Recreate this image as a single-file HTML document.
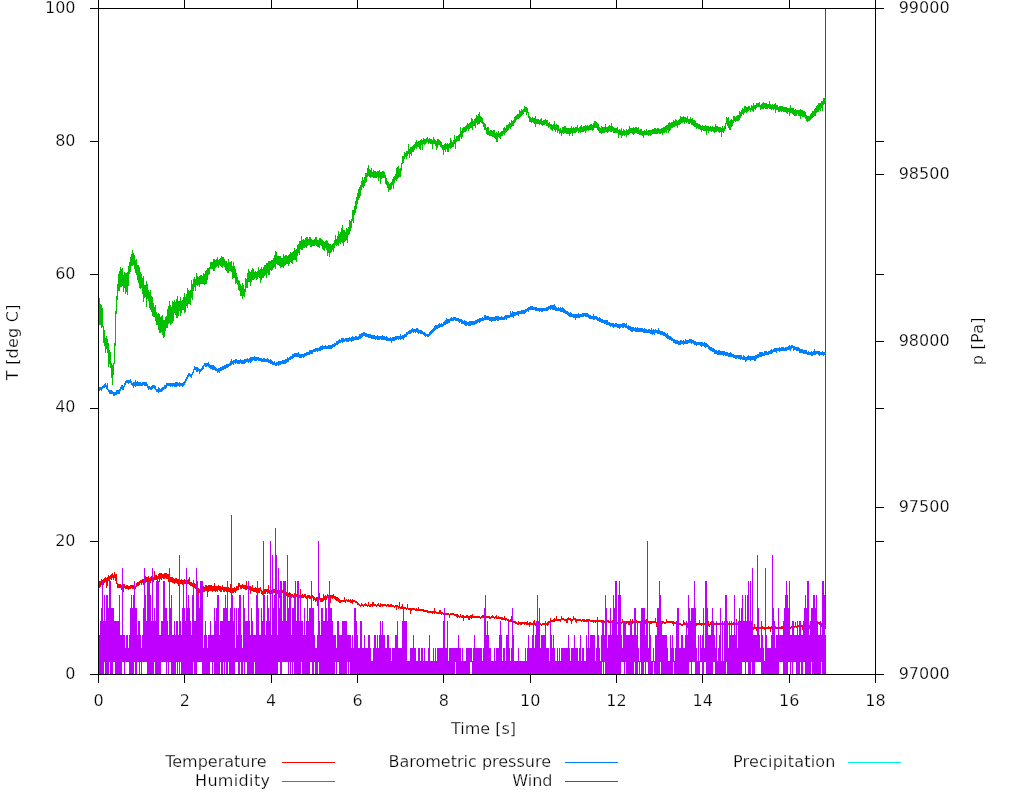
<!DOCTYPE html>
<html><head><meta charset="utf-8"><title>plot</title>
<style>html,body{margin:0;padding:0;background:#fff;overflow:hidden}svg{display:block;will-change:transform}</style>
</head><body>
<svg width="1024" height="800" viewBox="0 0 1024 800">
<rect width="1024" height="800" fill="#fff"/>
<path d="M99.5,581V588M100.5,581V587M101.5,579V585M102.5,580V590M103.5,579V585M104.5,578V583M105.5,577V582M106.5,578V588M107.5,577V586M108.5,575V581M109.5,576V581M110.5,575V579M111.5,574V580M112.5,573V578M113.5,575V580M114.5,572V578M115.5,574V581M116.5,574V584M117.5,583V588M118.5,584V588M119.5,584V588M120.5,584V588M121.5,585V590M122.5,585V589M123.5,584V592M124.5,584V588M125.5,586V589M126.5,585V589M127.5,585V589M128.5,586V590M129.5,586V589M130.5,585V589M131.5,585V588M132.5,585V589M133.5,585V589M134.5,585V588M135.5,586V589M136.5,583V587M137.5,582V586M138.5,582V586M139.5,581V585M140.5,580V583M141.5,580V585M142.5,579V583M143.5,579V585M144.5,579V583M145.5,576V583M146.5,577V582M147.5,577V581M148.5,576V581M149.5,578V583M150.5,577V583M151.5,576V581M152.5,577V582M153.5,577V582M154.5,571V580M155.5,575V580M156.5,575V580M157.5,576V585M158.5,574V579M159.5,573V582M160.5,573V579M161.5,573V580M162.5,574V578M163.5,574V579M164.5,573V579M165.5,573V578M166.5,573V579M167.5,574V579M168.5,574V582M169.5,575V581M170.5,577V582M171.5,577V582M172.5,577V583M173.5,578V583M174.5,579V584M175.5,578V583M176.5,578V583M177.5,579V584M178.5,579V586M179.5,575V585M180.5,580V584M181.5,579V584M182.5,580V585M183.5,580V584M184.5,579V584M185.5,580V584M186.5,581V586M187.5,580V584M188.5,579V584M189.5,577V585M190.5,582V586M191.5,582V586M192.5,583V587M193.5,580V588M194.5,583V588M195.5,584V589M196.5,586V590M197.5,587V591M198.5,588V595M199.5,589V593M200.5,583V595M201.5,587V592M202.5,587V592M203.5,586V592M204.5,587V592M205.5,585V591M206.5,585V591M207.5,586V597M208.5,585V592M209.5,585V591M210.5,585V591M211.5,585V591M212.5,586V592M213.5,586V591M214.5,583V591M215.5,586V592M216.5,586V591M217.5,586V592M218.5,585V590M219.5,586V591M220.5,586V592M221.5,587V592M222.5,585V590M223.5,587V592M224.5,587V592M225.5,587V591M226.5,587V592M227.5,587V592M228.5,587V592M229.5,588V592M230.5,584V593M231.5,586V594M232.5,588V593M233.5,588V593M234.5,587V592M235.5,588V593M236.5,586V591M237.5,586V590M238.5,583V590M239.5,583V587M240.5,585V589M241.5,585V589M242.5,584V588M243.5,585V589M244.5,585V589M245.5,585V590M246.5,581V590M247.5,586V589M248.5,586V590M249.5,586V590M250.5,586V594M251.5,587V591M252.5,585V591M253.5,588V592M254.5,588V592M255.5,587V592M256.5,588V593M257.5,588V592M258.5,588V593M259.5,588V593M260.5,587V591M261.5,590V594M262.5,591V595M263.5,590V594M264.5,589V594M265.5,589V594M266.5,589V592M267.5,589V594M268.5,585V593M269.5,590V594M270.5,590V594M271.5,590V594M272.5,589V593M273.5,589V593M274.5,589V593M275.5,590V594M276.5,590V598M277.5,590V594M278.5,589V593M279.5,590V598M280.5,589V593M281.5,589V593M282.5,590V593M283.5,590V594M284.5,591V595M285.5,591V595M286.5,592V596M287.5,593V597M288.5,593V597M289.5,592V596M290.5,593V601M291.5,594V598M292.5,594V597M293.5,595V598M294.5,593V596M295.5,595V597M296.5,594V597M297.5,595V602M298.5,594V597M299.5,595V598M300.5,589V600M301.5,595V598M302.5,594V598M303.5,595V598M304.5,594V597M305.5,594V598M306.5,596V599M307.5,595V599M308.5,595V598M309.5,595V599M310.5,596V599M311.5,594V598M312.5,595V598M313.5,596V601M314.5,597V600M315.5,598V602M316.5,597V601M317.5,597V606M318.5,597V601M319.5,593V600M320.5,598V602M321.5,598V602M322.5,598V602M323.5,594V601M324.5,596V600M325.5,595V599M326.5,596V600M327.5,594V598M328.5,596V599M329.5,595V599M330.5,595V603M331.5,595V598M332.5,595V599M333.5,594V598M334.5,596V599M335.5,596V600M336.5,597V601M337.5,597V601M338.5,598V602M339.5,599V603M340.5,600V603M341.5,600V602M342.5,600V602M343.5,600V602M344.5,597V602M345.5,600V603M346.5,599V601M347.5,600V602M348.5,599V602M349.5,600V602M350.5,599V603M351.5,600V603M352.5,599V604M353.5,600V602M354.5,600V602M355.5,601V603M356.5,601V603M357.5,602V605M358.5,603V605M359.5,604V606M360.5,605V607M361.5,603V606M362.5,604V606M363.5,605V607M364.5,604V606M365.5,603V606M366.5,604V606M367.5,605V607M368.5,602V606M369.5,605V607M370.5,604V607M371.5,604V606M372.5,602V607M373.5,602V606M374.5,604V606M375.5,604V606M376.5,605V607M377.5,604V606M378.5,603V606M379.5,605V607M380.5,603V607M381.5,604V606M382.5,604V607M383.5,604V606M384.5,604V606M385.5,604V606M386.5,605V607M387.5,604V606M388.5,604V607M389.5,605V607M390.5,604V607M391.5,604V607M392.5,605V607M393.5,605V607M394.5,606V608M395.5,605V607M396.5,605V610M397.5,605V607M398.5,606V609M399.5,602V608M400.5,607V609M401.5,606V609M402.5,604V609M403.5,607V609M404.5,607V609M405.5,607V609M406.5,608V610M407.5,604V609M408.5,608V610M409.5,608V610M410.5,608V614M411.5,608V611M412.5,608V610M413.5,608V610M414.5,608V610M415.5,609V611M416.5,608V611M417.5,609V611M418.5,607V611M419.5,609V611M420.5,609V611M421.5,609V611M422.5,609V611M423.5,609V612M424.5,610V612M425.5,610V612M426.5,610V612M427.5,610V613M428.5,611V613M429.5,611V613M430.5,611V613M431.5,611V613M432.5,611V614M433.5,611V613M434.5,608V614M435.5,611V613M436.5,612V614M437.5,612V614M438.5,612V614M439.5,610V614M440.5,610V614M441.5,612V615M442.5,612V614M443.5,613V615M444.5,613V615M445.5,613V615M446.5,613V615M447.5,613V615M448.5,613V615M449.5,614V618M450.5,613V615M451.5,613V615M452.5,613V615M453.5,613V615M454.5,614V616M455.5,614V616M456.5,614V617M457.5,614V618M458.5,615V617M459.5,616V618M460.5,614V617M461.5,616V618M462.5,615V618M463.5,615V621M464.5,616V618M465.5,616V618M466.5,615V618M467.5,615V618M468.5,616V620M469.5,616V620M470.5,615V618M471.5,615V619M472.5,614V618M473.5,616V618M474.5,616V618M475.5,616V618M476.5,616V618M477.5,616V618M478.5,616V618M479.5,616V618M480.5,617V619M481.5,616V618M482.5,615V618M483.5,615V618M484.5,616V618M485.5,616V619M486.5,616V618M487.5,616V618M488.5,616V618M489.5,616V619M490.5,617V619M491.5,616V618M492.5,615V618M493.5,616V618M494.5,617V619M495.5,616V618M496.5,615V619M497.5,617V619M498.5,616V619M499.5,617V619M500.5,617V619M501.5,617V620M502.5,617V620M503.5,618V620M504.5,616V620M505.5,618V621M506.5,618V620M507.5,619V621M508.5,619V621M509.5,620V622M510.5,619V622M511.5,616V622M512.5,617V622M513.5,621V623M514.5,621V623M515.5,621V624M516.5,622V624M517.5,623V625M518.5,621V625M519.5,622V624M520.5,622V625M521.5,622V625M522.5,622V624M523.5,622V624M524.5,622V625M525.5,622V624M526.5,622V625M527.5,621V625M528.5,623V625M529.5,622V627M530.5,622V625M531.5,623V625M532.5,623V625M533.5,622V624M534.5,620V625M535.5,623V626M536.5,623V625M537.5,623V625M538.5,623V625M539.5,623V625M540.5,623V625M541.5,624V626M542.5,623V625M543.5,623V625M544.5,623V625M545.5,623V628M546.5,623V625M547.5,622V626M548.5,621V625M549.5,621V623M550.5,618V623M551.5,620V622M552.5,620V622M553.5,619V622M554.5,618V622M555.5,619V621M556.5,616V621M557.5,619V621M558.5,619V621M559.5,619V621M560.5,619V622M561.5,616V620M562.5,618V620M563.5,618V620M564.5,619V621M565.5,619V621M566.5,619V623M567.5,618V623M568.5,617V620M569.5,618V620M570.5,618V621M571.5,619V624M572.5,619V621M573.5,616V620M574.5,618V620M575.5,618V622M576.5,619V623M577.5,619V621M578.5,619V621M579.5,619V621M580.5,619V621M581.5,620V622M582.5,619V621M583.5,619V622M584.5,619V622M585.5,620V622M586.5,619V622M587.5,619V622M588.5,619V621M589.5,619V621M590.5,620V622M591.5,620V622M592.5,620V622M593.5,620V623M594.5,620V622M595.5,620V623M596.5,620V622M597.5,617V622M598.5,620V622M599.5,620V622M600.5,620V622M601.5,620V623M602.5,620V622M603.5,620V622M604.5,621V623M605.5,620V623M606.5,620V622M607.5,620V622M608.5,620V623M609.5,621V623M610.5,621V626M611.5,621V623M612.5,620V622M613.5,620V624M614.5,621V623M615.5,621V623M616.5,622V624M617.5,622V624M618.5,622V624M619.5,622V624M620.5,622V624M621.5,622V624M622.5,619V623M623.5,621V623M624.5,621V623M625.5,621V624M626.5,621V624M627.5,621V623M628.5,621V625M629.5,621V625M630.5,619V624M631.5,622V624M632.5,619V624M633.5,621V623M634.5,619V624M635.5,621V627M636.5,620V623M637.5,621V623M638.5,621V623M639.5,621V623M640.5,621V623M641.5,621V626M642.5,621V623M643.5,621V623M644.5,621V623M645.5,620V624M646.5,619V624M647.5,621V623M648.5,621V623M649.5,621V626M650.5,621V624M651.5,621V624M652.5,621V623M653.5,621V623M654.5,621V623M655.5,618V623M656.5,622V627M657.5,621V623M658.5,621V624M659.5,621V623M660.5,621V623M661.5,622V624M662.5,621V624M663.5,621V623M664.5,622V624M665.5,622V624M666.5,619V623M667.5,621V623M668.5,621V623M669.5,621V623M670.5,621V623M671.5,621V623M672.5,621V624M673.5,621V626M674.5,622V624M675.5,622V624M676.5,622V624M677.5,620V625M678.5,623V625M679.5,623V625M680.5,623V625M681.5,624V626M682.5,624V626M683.5,620V625M684.5,622V625M685.5,623V625M686.5,623V625M687.5,623V628M688.5,624V626M689.5,623V628M690.5,624V626M691.5,623V625M692.5,623V625M693.5,623V625M694.5,623V627M695.5,623V625M696.5,623V626M697.5,623V625M698.5,623V625M699.5,620V625M700.5,623V625M701.5,623V626M702.5,623V625M703.5,623V625M704.5,623V625M705.5,623V627M706.5,622V625M707.5,620V625M708.5,621V626M709.5,624V627M710.5,622V625M711.5,623V625M712.5,623V625M713.5,623V625M714.5,623V625M715.5,623V625M716.5,623V625M717.5,623V625M718.5,623V625M719.5,623V625M720.5,623V625M721.5,623V625M722.5,623V625M723.5,623V625M724.5,623V625M725.5,621V625M726.5,623V628M727.5,623V625M728.5,623V625M729.5,623V626M730.5,623V625M731.5,622V625M732.5,623V625M733.5,622V625M734.5,623V625M735.5,623V625M736.5,619V625M737.5,623V625M738.5,622V625M739.5,623V625M740.5,623V625M741.5,623V626M742.5,624V626M743.5,623V626M744.5,624V630M745.5,624V627M746.5,625V627M747.5,625V627M748.5,626V628M749.5,627V632M750.5,626V628M751.5,626V629M752.5,627V629M753.5,627V630M754.5,624V629M755.5,627V629M756.5,627V631M757.5,626V629M758.5,626V629M759.5,627V629M760.5,627V629M761.5,627V629M762.5,626V629M763.5,627V629M764.5,627V630M765.5,627V629M766.5,627V629M767.5,627V629M768.5,626V629M769.5,627V629M770.5,627V632M771.5,626V629M772.5,627V629M773.5,627V629M774.5,623V629M775.5,626V629M776.5,627V629M777.5,627V629M778.5,624V629M779.5,627V629M780.5,627V629M781.5,626V629M782.5,626V629M783.5,626V628M784.5,626V628M785.5,627V629M786.5,626V629M787.5,627V629M788.5,627V629M789.5,627V629M790.5,627V629M791.5,626V628M792.5,626V628M793.5,625V627M794.5,626V628M795.5,622V627M796.5,626V628M797.5,626V631M798.5,625V627M799.5,625V627M800.5,626V628M801.5,625V627M802.5,625V630M803.5,625V628M804.5,625V627M805.5,624V627M806.5,625V627M807.5,625V630M808.5,625V628M809.5,625V629M810.5,625V627M811.5,625V627M812.5,624V627M813.5,623V625M814.5,622V624M815.5,622V625M816.5,622V625M817.5,623V625M818.5,622V624M819.5,622V625M820.5,624V626M821.5,623V627M822.5,624V626M823.5,624V626M824.5,624V626M825.5,624V629M825.5,8V624" stroke="#ff0000" stroke-width="1" fill="none" shape-rendering="crispEdges"/>
<path d="M99.5,298V325M100.5,304V325M101.5,305V328M102.5,308V327M103.5,326V343M104.5,330V346M105.5,338V353M106.5,336V349M107.5,339V353M108.5,343V367M109.5,350V364M110.5,352V368M111.5,363V378M112.5,365V385M113.5,363V375M114.5,343V364M115.5,311V346M116.5,296V314M117.5,284V300M118.5,274V291M119.5,271V291M120.5,267V287M121.5,269V287M122.5,268V286M123.5,275V292M124.5,272V288M125.5,273V294M126.5,273V292M127.5,272V295M128.5,266V286M129.5,262V274M130.5,257V272M131.5,254V266M132.5,250V266M133.5,253V265M134.5,255V269M135.5,260V273M136.5,259V275M137.5,265V280M138.5,265V283M139.5,267V288M140.5,272V289M141.5,274V288M142.5,278V294M143.5,276V302M144.5,285V298M145.5,285V297M146.5,281V307M147.5,284V299M148.5,290V301M149.5,292V308M150.5,290V310M151.5,296V312M152.5,297V316M153.5,303V317M154.5,307V317M155.5,305V321M156.5,312V325M157.5,314V325M158.5,313V330M159.5,314V333M160.5,317V333M161.5,316V332M162.5,315V335M163.5,320V338M164.5,320V337M165.5,317V331M166.5,316V328M167.5,309V328M168.5,306V324M169.5,301V323M170.5,305V325M171.5,307V324M172.5,301V323M173.5,302V321M174.5,300V313M175.5,302V315M176.5,299V318M177.5,296V318M178.5,301V316M179.5,301V311M180.5,297V316M181.5,301V313M182.5,300V310M183.5,297V310M184.5,293V313M185.5,297V312M186.5,294V306M187.5,288V308M188.5,290V304M189.5,291V304M190.5,290V305M191.5,280V298M192.5,284V300M193.5,279V291M194.5,277V287M195.5,279V291M196.5,273V285M197.5,276V286M198.5,277V285M199.5,276V287M200.5,275V284M201.5,275V284M202.5,276V284M203.5,273V284M204.5,274V285M205.5,271V284M206.5,270V284M207.5,268V280M208.5,268V275M209.5,267V274M210.5,262V269M211.5,262V269M212.5,262V269M213.5,259V271M214.5,259V271M215.5,260V268M216.5,259V267M217.5,257V266M218.5,260V268M219.5,259V265M220.5,258V266M221.5,256V267M222.5,257V268M223.5,257V266M224.5,259V267M225.5,261V270M226.5,261V271M227.5,263V273M228.5,259V273M229.5,262V271M230.5,262V271M231.5,261V272M232.5,266V279M233.5,262V278M234.5,266V278M235.5,269V284M236.5,273V283M237.5,277V285M238.5,280V290M239.5,281V291M240.5,284V296M241.5,286V296M242.5,283V299M243.5,285V296M244.5,289V297M245.5,278V292M246.5,279V288M247.5,273V288M248.5,269V282M249.5,271V282M250.5,272V286M251.5,270V282M252.5,268V280M253.5,269V280M254.5,272V279M255.5,271V278M256.5,272V280M257.5,271V279M258.5,267V277M259.5,270V278M260.5,269V283M261.5,267V280M262.5,269V278M263.5,267V278M264.5,265V276M265.5,265V275M266.5,263V278M267.5,263V273M268.5,261V275M269.5,261V275M270.5,261V270M271.5,260V271M272.5,260V270M273.5,258V268M274.5,255V267M275.5,251V269M276.5,252V264M277.5,256V265M278.5,256V265M279.5,256V266M280.5,256V268M281.5,258V267M282.5,258V267M283.5,254V268M284.5,256V266M285.5,255V265M286.5,255V264M287.5,256V264M288.5,255V266M289.5,254V264M290.5,252V262M291.5,253V263M292.5,252V264M293.5,251V260M294.5,248V260M295.5,250V260M296.5,249V262M297.5,245V256M298.5,244V253M299.5,241V255M300.5,241V249M301.5,236V250M302.5,240V250M303.5,239V248M304.5,240V248M305.5,238V247M306.5,237V248M307.5,237V246M308.5,239V245M309.5,237V245M310.5,237V247M311.5,239V247M312.5,240V246M313.5,240V246M314.5,239V246M315.5,237V245M316.5,237V246M317.5,240V247M318.5,240V247M319.5,238V248M320.5,238V245M321.5,239V246M322.5,240V249M323.5,241V250M324.5,242V251M325.5,241V248M326.5,240V250M327.5,241V256M328.5,243V253M329.5,244V257M330.5,244V253M331.5,245V252M332.5,244V250M333.5,243V252M334.5,240V248M335.5,235V245M336.5,239V246M337.5,236V245M338.5,231V246M339.5,234V243M340.5,232V244M341.5,228V242M342.5,225V243M343.5,230V246M344.5,230V242M345.5,232V241M346.5,228V240M347.5,229V243M348.5,227V235M349.5,220V234M350.5,221V231M351.5,219V228M352.5,210V221M353.5,210V223M354.5,206V215M355.5,201V213M356.5,197V209M357.5,193V204M358.5,189V200M359.5,187V198M360.5,185V196M361.5,181V190M362.5,177V187M363.5,180V188M364.5,177V186M365.5,173V183M366.5,173V182M367.5,168V177M368.5,165V176M369.5,169V177M370.5,170V178M371.5,168V177M372.5,172V177M373.5,170V178M374.5,171V178M375.5,171V178M376.5,172V178M377.5,171V177M378.5,171V181M379.5,170V178M380.5,172V184M381.5,172V179M382.5,171V178M383.5,171V178M384.5,172V178M385.5,175V184M386.5,178V185M387.5,181V188M388.5,182V192M389.5,184V190M390.5,183V190M391.5,182V189M392.5,179V185M393.5,177V189M394.5,176V183M395.5,174V180M396.5,168V181M397.5,167V179M398.5,166V178M399.5,169V177M400.5,168V177M401.5,163V171M402.5,156V164M403.5,156V163M404.5,152V159M405.5,153V157M406.5,151V159M407.5,151V156M408.5,144V154M409.5,149V158M410.5,147V154M411.5,147V156M412.5,146V152M413.5,145V152M414.5,144V150M415.5,142V148M416.5,140V149M417.5,142V147M418.5,141V147M419.5,141V149M420.5,140V150M421.5,139V145M422.5,140V150M423.5,138V144M424.5,139V145M425.5,139V144M426.5,138V143M427.5,137V142M428.5,139V144M429.5,138V143M430.5,139V144M431.5,139V144M432.5,140V149M433.5,137V144M434.5,139V144M435.5,140V146M436.5,141V150M437.5,139V148M438.5,139V145M439.5,140V145M440.5,141V147M441.5,142V148M442.5,145V150M443.5,145V155M444.5,144V150M445.5,143V152M446.5,144V149M447.5,143V152M448.5,144V152M449.5,143V148M450.5,138V149M451.5,140V148M452.5,142V147M453.5,140V147M454.5,135V144M455.5,139V149M456.5,136V142M457.5,136V141M458.5,135V141M459.5,134V141M460.5,127V137M461.5,131V139M462.5,128V137M463.5,127V133M464.5,127V132M465.5,126V132M466.5,125V131M467.5,123V129M468.5,124V131M469.5,123V129M470.5,122V128M471.5,118V128M472.5,119V130M473.5,121V126M474.5,119V126M475.5,118V128M476.5,115V123M477.5,116V125M478.5,114V124M479.5,112V124M480.5,116V122M481.5,117V123M482.5,118V124M483.5,122V127M484.5,123V130M485.5,124V130M486.5,128V134M487.5,127V135M488.5,127V135M489.5,131V136M490.5,130V136M491.5,130V136M492.5,131V137M493.5,130V137M494.5,130V138M495.5,133V139M496.5,132V142M497.5,133V142M498.5,131V137M499.5,133V138M500.5,132V139M501.5,131V136M502.5,131V136M503.5,128V134M504.5,127V135M505.5,128V133M506.5,125V132M507.5,125V131M508.5,124V130M509.5,122V128M510.5,123V129M511.5,120V127M512.5,121V126M513.5,120V126M514.5,117V123M515.5,116V122M516.5,115V120M517.5,114V119M518.5,114V119M519.5,110V118M520.5,111V117M521.5,109V116M522.5,110V115M523.5,109V114M524.5,106V112M525.5,107V112M526.5,107V115M527.5,108V113M528.5,112V118M529.5,116V122M530.5,117V122M531.5,118V123M532.5,117V122M533.5,118V123M534.5,118V124M535.5,116V127M536.5,119V124M537.5,119V124M538.5,119V124M539.5,120V125M540.5,119V124M541.5,118V125M542.5,121V126M543.5,120V125M544.5,120V125M545.5,119V124M546.5,120V126M547.5,120V126M548.5,123V128M549.5,122V127M550.5,124V129M551.5,124V130M552.5,125V131M553.5,124V129M554.5,121V130M555.5,125V132M556.5,124V130M557.5,125V133M558.5,125V131M559.5,129V134M560.5,128V133M561.5,130V136M562.5,127V133M563.5,127V134M564.5,126V133M565.5,126V133M566.5,128V134M567.5,128V134M568.5,128V134M569.5,128V136M570.5,128V134M571.5,126V133M572.5,128V136M573.5,127V133M574.5,128V133M575.5,127V133M576.5,127V132M577.5,125V131M578.5,128V133M579.5,127V132M580.5,126V133M581.5,125V132M582.5,127V132M583.5,126V132M584.5,126V131M585.5,125V133M586.5,126V131M587.5,125V130M588.5,126V131M589.5,125V130M590.5,124V130M591.5,124V130M592.5,125V131M593.5,123V130M594.5,121V128M595.5,121V128M596.5,122V128M597.5,123V130M598.5,124V131M599.5,127V133M600.5,128V133M601.5,126V134M602.5,127V133M603.5,127V133M604.5,127V133M605.5,124V132M606.5,127V132M607.5,127V133M608.5,126V132M609.5,125V131M610.5,126V132M611.5,123V132M612.5,126V131M613.5,127V133M614.5,128V133M615.5,128V133M616.5,128V133M617.5,127V133M618.5,130V138M619.5,129V135M620.5,130V135M621.5,128V138M622.5,131V136M623.5,129V135M624.5,130V136M625.5,131V135M626.5,129V137M627.5,130V135M628.5,129V135M629.5,126V134M630.5,128V133M631.5,128V133M632.5,128V134M633.5,127V135M634.5,128V134M635.5,127V133M636.5,127V133M637.5,128V134M638.5,127V134M639.5,130V135M640.5,129V135M641.5,129V135M642.5,131V136M643.5,131V138M644.5,130V135M645.5,131V135M646.5,129V135M647.5,131V135M648.5,130V136M649.5,130V135M650.5,130V136M651.5,130V135M652.5,129V134M653.5,129V134M654.5,128V134M655.5,128V134M656.5,129V134M657.5,128V134M658.5,128V133M659.5,129V134M660.5,129V134M661.5,128V133M662.5,128V135M663.5,127V133M664.5,127V133M665.5,126V132M666.5,125V133M667.5,125V130M668.5,123V133M669.5,122V131M670.5,123V130M671.5,122V128M672.5,122V128M673.5,120V127M674.5,121V127M675.5,119V126M676.5,120V126M677.5,121V128M678.5,120V125M679.5,119V125M680.5,116V124M681.5,117V123M682.5,117V123M683.5,116V122M684.5,117V124M685.5,117V122M686.5,118V123M687.5,116V122M688.5,119V124M689.5,119V124M690.5,117V123M691.5,119V125M692.5,118V125M693.5,120V126M694.5,120V127M695.5,121V127M696.5,123V129M697.5,123V128M698.5,124V129M699.5,124V129M700.5,125V130M701.5,126V132M702.5,125V130M703.5,126V131M704.5,126V131M705.5,125V131M706.5,126V135M707.5,126V131M708.5,126V133M709.5,127V131M710.5,126V131M711.5,127V132M712.5,126V131M713.5,127V132M714.5,127V133M715.5,124V132M716.5,126V132M717.5,126V131M718.5,127V132M719.5,127V133M720.5,127V132M721.5,128V137M722.5,126V132M723.5,128V133M724.5,126V131M725.5,123V129M726.5,117V124M727.5,118V126M728.5,117V128M729.5,121V130M730.5,120V130M731.5,119V127M732.5,120V126M733.5,116V123M734.5,116V121M735.5,117V122M736.5,116V121M737.5,115V121M738.5,115V121M739.5,111V120M740.5,112V118M741.5,110V116M742.5,108V114M743.5,109V115M744.5,106V113M745.5,106V112M746.5,107V113M747.5,107V112M748.5,106V111M749.5,106V110M750.5,108V112M751.5,105V110M752.5,106V111M753.5,103V112M754.5,105V109M755.5,105V110M756.5,103V108M757.5,103V107M758.5,103V107M759.5,102V107M760.5,105V110M761.5,104V109M762.5,103V109M763.5,102V109M764.5,103V108M765.5,103V109M766.5,103V109M767.5,104V109M768.5,104V108M769.5,101V109M770.5,104V109M771.5,105V110M772.5,104V109M773.5,105V110M774.5,104V109M775.5,103V113M776.5,105V110M777.5,105V110M778.5,107V112M779.5,106V112M780.5,106V111M781.5,106V112M782.5,106V111M783.5,107V112M784.5,107V112M785.5,107V112M786.5,107V113M787.5,108V114M788.5,108V112M789.5,108V116M790.5,105V113M791.5,108V113M792.5,108V114M793.5,108V115M794.5,110V116M795.5,109V116M796.5,110V116M797.5,110V114M798.5,110V116M799.5,110V116M800.5,109V119M801.5,110V116M802.5,110V117M803.5,111V117M804.5,111V117M805.5,112V119M806.5,115V121M807.5,116V122M808.5,116V121M809.5,116V121M810.5,114V120M811.5,113V119M812.5,111V118M813.5,111V117M814.5,109V116M815.5,108V116M816.5,106V113M817.5,105V112M818.5,103V112M819.5,103V110M820.5,103V111M821.5,101V108M822.5,101V111M823.5,98V105M824.5,98V104M825.5,98V103" stroke="#00c000" stroke-width="1" fill="none" shape-rendering="crispEdges"/>
<path d="M99.5,387V391M100.5,387V390M101.5,387V391M102.5,386V389M103.5,385V388M104.5,384V388M105.5,383V387M106.5,385V389M107.5,383V390M108.5,389V392M109.5,390V394M110.5,390V394M111.5,390V394M112.5,391V394M113.5,392V396M114.5,392V396M115.5,392V395M116.5,390V395M117.5,390V394M118.5,390V394M119.5,389V394M120.5,387V391M121.5,385V389M122.5,385V390M123.5,386V390M124.5,383V387M125.5,381V385M126.5,380V383M127.5,380V383M128.5,380V384M129.5,380V383M130.5,379V383M131.5,381V385M132.5,383V386M133.5,382V388M134.5,382V386M135.5,380V387M136.5,382V386M137.5,381V386M138.5,382V386M139.5,382V386M140.5,382V386M141.5,383V386M142.5,382V386M143.5,382V385M144.5,382V386M145.5,382V386M146.5,382V386M147.5,384V388M148.5,386V390M149.5,386V389M150.5,387V390M151.5,386V390M152.5,385V389M153.5,385V388M154.5,385V389M155.5,386V390M156.5,389V392M157.5,389V392M158.5,387V393M159.5,388V392M160.5,389V392M161.5,388V392M162.5,387V391M163.5,387V390M164.5,385V389M165.5,385V389M166.5,383V388M167.5,383V386M168.5,383V386M169.5,383V386M170.5,383V387M171.5,383V386M172.5,383V387M173.5,383V386M174.5,383V387M175.5,382V387M176.5,382V387M177.5,382V386M178.5,383V386M179.5,382V387M180.5,383V386M181.5,383V386M182.5,383V387M183.5,382V386M184.5,381V385M185.5,379V383M186.5,377V381M187.5,375V379M188.5,373V377M189.5,373V376M190.5,374V377M191.5,374V378M192.5,372V375M193.5,369V373M194.5,366V370M195.5,367V370M196.5,367V372M197.5,367V372M198.5,368V371M199.5,369V374M200.5,369V372M201.5,368V371M202.5,366V370M203.5,365V369M204.5,363V366M205.5,363V367M206.5,363V367M207.5,363V366M208.5,362V367M209.5,364V368M210.5,365V369M211.5,365V369M212.5,365V370M213.5,365V370M214.5,366V370M215.5,367V371M216.5,368V371M217.5,369V373M218.5,368V372M219.5,368V373M220.5,367V371M221.5,367V371M222.5,366V370M223.5,366V370M224.5,365V369M225.5,365V369M226.5,364V368M227.5,364V368M228.5,364V367M229.5,363V366M230.5,361V366M231.5,359V365M232.5,361V364M233.5,360V365M234.5,360V363M235.5,359V364M236.5,359V363M237.5,360V364M238.5,360V364M239.5,360V364M240.5,359V363M241.5,360V364M242.5,360V364M243.5,360V364M244.5,359V364M245.5,359V363M246.5,359V362M247.5,358V362M248.5,359V363M249.5,358V362M250.5,357V363M251.5,357V362M252.5,357V361M253.5,357V360M254.5,356V361M255.5,357V361M256.5,357V361M257.5,357V360M258.5,357V361M259.5,358V361M260.5,358V361M261.5,358V362M262.5,359V362M263.5,358V362M264.5,358V362M265.5,359V362M266.5,359V362M267.5,358V362M268.5,359V363M269.5,360V363M270.5,359V364M271.5,360V364M272.5,361V365M273.5,362V365M274.5,361V365M275.5,363V366M276.5,362V366M277.5,362V365M278.5,361V366M279.5,361V365M280.5,361V365M281.5,361V364M282.5,360V364M283.5,360V364M284.5,360V364M285.5,359V364M286.5,359V363M287.5,357V362M288.5,358V362M289.5,357V360M290.5,356V360M291.5,356V359M292.5,354V359M293.5,354V358M294.5,353V357M295.5,353V357M296.5,353V357M297.5,353V357M298.5,352V357M299.5,354V358M300.5,354V358M301.5,354V358M302.5,354V357M303.5,354V358M304.5,353V357M305.5,353V356M306.5,352V356M307.5,352V355M308.5,352V355M309.5,350V355M310.5,350V354M311.5,350V354M312.5,350V354M313.5,349V352M314.5,349V352M315.5,348V352M316.5,348V351M317.5,348V352M318.5,348V351M319.5,347V351M320.5,346V351M321.5,346V350M322.5,345V350M323.5,346V349M324.5,346V349M325.5,345V349M326.5,346V349M327.5,346V349M328.5,345V349M329.5,345V349M330.5,345V349M331.5,345V349M332.5,344V348M333.5,344V347M334.5,343V347M335.5,343V346M336.5,341V345M337.5,341V345M338.5,340V344M339.5,339V343M340.5,340V343M341.5,338V342M342.5,338V343M343.5,338V342M344.5,339V342M345.5,338V341M346.5,338V342M347.5,338V342M348.5,338V342M349.5,337V341M350.5,338V341M351.5,337V342M352.5,336V341M353.5,337V341M354.5,337V340M355.5,336V340M356.5,336V340M357.5,337V340M358.5,336V340M359.5,334V339M360.5,334V339M361.5,333V338M362.5,333V337M363.5,332V336M364.5,332V336M365.5,333V337M366.5,333V337M367.5,334V337M368.5,334V338M369.5,334V338M370.5,334V338M371.5,335V339M372.5,335V339M373.5,335V339M374.5,335V339M375.5,336V340M376.5,336V339M377.5,335V340M378.5,336V340M379.5,336V340M380.5,336V339M381.5,336V340M382.5,335V340M383.5,336V340M384.5,336V340M385.5,337V340M386.5,336V341M387.5,337V341M388.5,338V341M389.5,338V341M390.5,337V341M391.5,338V343M392.5,337V341M393.5,337V341M394.5,337V341M395.5,336V340M396.5,336V340M397.5,336V339M398.5,336V340M399.5,336V339M400.5,334V340M401.5,336V339M402.5,335V339M403.5,335V340M404.5,334V338M405.5,334V337M406.5,332V337M407.5,332V335M408.5,331V334M409.5,330V334M410.5,330V334M411.5,329V333M412.5,328V332M413.5,329V333M414.5,329V332M415.5,329V333M416.5,328V332M417.5,328V333M418.5,329V334M419.5,330V333M420.5,330V334M421.5,330V334M422.5,331V334M423.5,332V335M424.5,332V336M425.5,333V337M426.5,334V336M427.5,334V337M428.5,334V337M429.5,332V336M430.5,331V335M431.5,330V334M432.5,329V333M433.5,328V332M434.5,326V331M435.5,325V330M436.5,325V329M437.5,325V329M438.5,324V328M439.5,323V328M440.5,324V327M441.5,323V327M442.5,324V327M443.5,322V326M444.5,321V325M445.5,320V325M446.5,318V324M447.5,319V324M448.5,319V323M449.5,319V323M450.5,318V321M451.5,317V321M452.5,318V321M453.5,317V321M454.5,317V320M455.5,317V321M456.5,318V321M457.5,318V321M458.5,318V322M459.5,319V323M460.5,319V322M461.5,319V324M462.5,320V324M463.5,321V324M464.5,320V325M465.5,321V326M466.5,321V326M467.5,322V325M468.5,322V326M469.5,321V326M470.5,321V326M471.5,321V325M472.5,321V325M473.5,321V325M474.5,321V325M475.5,320V324M476.5,320V324M477.5,319V323M478.5,319V322M479.5,318V323M480.5,318V322M481.5,318V321M482.5,317V321M483.5,318V321M484.5,315V320M485.5,315V320M486.5,316V320M487.5,316V320M488.5,316V320M489.5,317V321M490.5,317V321M491.5,317V322M492.5,317V321M493.5,317V321M494.5,317V321M495.5,316V321M496.5,316V320M497.5,316V321M498.5,316V321M499.5,317V320M500.5,317V320M501.5,316V320M502.5,317V320M503.5,317V320M504.5,316V320M505.5,315V319M506.5,315V320M507.5,315V318M508.5,315V318M509.5,315V318M510.5,311V317M511.5,313V317M512.5,311V317M513.5,312V318M514.5,312V316M515.5,312V316M516.5,312V315M517.5,311V315M518.5,311V316M519.5,311V314M520.5,311V314M521.5,310V314M522.5,310V314M523.5,310V314M524.5,310V314M525.5,309V313M526.5,309V312M527.5,308V311M528.5,307V312M529.5,307V310M530.5,306V310M531.5,306V310M532.5,306V310M533.5,307V310M534.5,307V310M535.5,307V311M536.5,307V311M537.5,308V311M538.5,308V311M539.5,308V312M540.5,308V311M541.5,308V312M542.5,308V312M543.5,308V311M544.5,308V311M545.5,308V311M546.5,307V311M547.5,307V311M548.5,306V310M549.5,306V309M550.5,305V310M551.5,305V309M552.5,305V310M553.5,305V310M554.5,304V310M555.5,306V311M556.5,307V311M557.5,308V311M558.5,307V311M559.5,308V311M560.5,307V312M561.5,308V312M562.5,307V312M563.5,308V313M564.5,309V313M565.5,310V314M566.5,311V314M567.5,311V315M568.5,312V316M569.5,313V317M570.5,312V317M571.5,313V317M572.5,314V317M573.5,314V318M574.5,314V318M575.5,314V320M576.5,314V318M577.5,314V318M578.5,313V318M579.5,314V318M580.5,314V317M581.5,314V317M582.5,313V317M583.5,313V317M584.5,313V316M585.5,313V317M586.5,313V317M587.5,313V317M588.5,314V318M589.5,315V319M590.5,315V319M591.5,316V319M592.5,316V319M593.5,314V320M594.5,316V320M595.5,316V319M596.5,316V320M597.5,317V321M598.5,318V321M599.5,317V322M600.5,318V322M601.5,319V323M602.5,319V323M603.5,320V323M604.5,320V324M605.5,320V324M606.5,320V325M607.5,320V325M608.5,322V325M609.5,322V326M610.5,323V327M611.5,323V326M612.5,323V327M613.5,323V328M614.5,324V327M615.5,323V327M616.5,323V327M617.5,324V328M618.5,324V328M619.5,324V329M620.5,324V328M621.5,324V327M622.5,323V328M623.5,323V328M624.5,323V327M625.5,324V328M626.5,323V328M627.5,326V329M628.5,325V330M629.5,326V330M630.5,326V331M631.5,327V332M632.5,327V332M633.5,327V331M634.5,328V331M635.5,327V332M636.5,328V332M637.5,327V332M638.5,328V332M639.5,328V332M640.5,328V332M641.5,328V332M642.5,328V332M643.5,329V333M644.5,328V333M645.5,329V333M646.5,329V333M647.5,330V333M648.5,329V333M649.5,329V333M650.5,330V334M651.5,328V334M652.5,330V335M653.5,329V334M654.5,330V335M655.5,329V333M656.5,330V333M657.5,330V334M658.5,328V334M659.5,330V334M660.5,331V335M661.5,331V335M662.5,331V335M663.5,332V336M664.5,332V336M665.5,333V337M666.5,334V338M667.5,333V339M668.5,335V339M669.5,336V340M670.5,336V340M671.5,337V341M672.5,338V341M673.5,339V343M674.5,339V343M675.5,340V344M676.5,340V344M677.5,340V344M678.5,341V345M679.5,341V345M680.5,340V345M681.5,340V344M682.5,341V344M683.5,340V345M684.5,341V344M685.5,339V344M686.5,340V344M687.5,340V344M688.5,340V343M689.5,339V343M690.5,339V343M691.5,339V344M692.5,340V343M693.5,340V344M694.5,341V345M695.5,341V345M696.5,342V346M697.5,342V345M698.5,342V345M699.5,342V345M700.5,342V346M701.5,342V347M702.5,342V346M703.5,343V346M704.5,342V347M705.5,343V348M706.5,343V347M707.5,344V347M708.5,345V349M709.5,346V350M710.5,347V351M711.5,347V351M712.5,348V352M713.5,348V352M714.5,349V354M715.5,350V354M716.5,350V354M717.5,351V355M718.5,350V355M719.5,350V355M720.5,351V355M721.5,351V355M722.5,351V355M723.5,351V356M724.5,351V355M725.5,352V356M726.5,352V356M727.5,352V356M728.5,353V357M729.5,353V357M730.5,352V357M731.5,353V357M732.5,354V357M733.5,354V358M734.5,355V358M735.5,355V359M736.5,355V359M737.5,355V358M738.5,355V359M739.5,355V359M740.5,355V360M741.5,355V359M742.5,357V360M743.5,355V360M744.5,356V360M745.5,357V362M746.5,357V361M747.5,356V360M748.5,355V360M749.5,356V360M750.5,356V361M751.5,356V360M752.5,356V360M753.5,356V360M754.5,356V361M755.5,355V361M756.5,355V359M757.5,354V358M758.5,354V358M759.5,352V357M760.5,352V357M761.5,352V357M762.5,352V356M763.5,353V356M764.5,351V356M765.5,351V355M766.5,351V355M767.5,352V355M768.5,351V355M769.5,351V354M770.5,350V354M771.5,349V354M772.5,350V353M773.5,349V352M774.5,348V352M775.5,348V352M776.5,348V353M777.5,348V351M778.5,348V351M779.5,347V352M780.5,348V351M781.5,347V351M782.5,347V351M783.5,347V351M784.5,348V351M785.5,347V351M786.5,347V351M787.5,347V350M788.5,346V350M789.5,345V350M790.5,346V351M791.5,345V349M792.5,345V348M793.5,346V351M794.5,346V350M795.5,347V350M796.5,347V351M797.5,347V351M798.5,347V351M799.5,348V353M800.5,349V353M801.5,349V353M802.5,349V353M803.5,350V354M804.5,350V354M805.5,350V354M806.5,350V354M807.5,352V355M808.5,351V355M809.5,352V355M810.5,352V355M811.5,351V356M812.5,352V356M813.5,351V355M814.5,349V355M815.5,351V355M816.5,351V354M817.5,351V354M818.5,351V355M819.5,351V356M820.5,352V355M821.5,352V355M822.5,351V355M823.5,352V356M824.5,352V355M825.5,352V356" stroke="#0080ff" stroke-width="1" fill="none" shape-rendering="crispEdges"/>
<path d="M99.5,635V674M100.5,621V674M101.5,608V674M102.5,581V674M103.5,621V674M104.5,595V662M105.5,621V674M106.5,595V674M107.5,595V674M108.5,608V674M109.5,581V662M110.5,581V674M111.5,608V674M112.5,608V674M113.5,608V662M114.5,621V662M115.5,621V674M116.5,621V674M117.5,621V674M118.5,621V674M119.5,595V674M120.5,635V674M121.5,635V674M122.5,568V662M123.5,635V662M124.5,635V674M125.5,648V662M126.5,635V662M127.5,635V662M128.5,648V662M129.5,635V674M130.5,608V674M131.5,595V674M132.5,608V674M133.5,595V674M134.5,581V662M135.5,608V674M136.5,608V674M137.5,635V662M138.5,621V662M139.5,621V674M140.5,635V662M141.5,648V674M142.5,635V662M143.5,608V662M144.5,568V662M145.5,595V662M146.5,621V662M147.5,581V674M148.5,581V674M149.5,581V674M150.5,595V674M151.5,621V674M152.5,568V674M153.5,621V674M154.5,608V662M155.5,621V674M156.5,581V674M157.5,581V674M158.5,581V674M159.5,635V674M160.5,635V674M161.5,621V662M162.5,621V662M163.5,581V662M164.5,581V662M165.5,608V662M166.5,608V674M167.5,621V662M168.5,635V674M169.5,568V662M170.5,608V662M171.5,595V674M172.5,635V674M173.5,635V674M174.5,621V674M175.5,635V674M176.5,621V662M177.5,621V674M178.5,635V662M179.5,555V674M180.5,621V662M181.5,635V674M182.5,608V674M183.5,581V674M184.5,608V674M185.5,621V674M186.5,568V674M187.5,608V674M188.5,595V674M189.5,608V674M190.5,621V674M191.5,635V674M192.5,595V674M193.5,581V662M194.5,621V674M195.5,621V674M196.5,568V674M197.5,581V662M198.5,595V662M199.5,608V662M200.5,581V662M201.5,581V662M202.5,581V674M203.5,648V674M204.5,635V674M205.5,621V674M206.5,635V674M207.5,648V674M208.5,635V674M209.5,635V674M210.5,621V662M211.5,635V662M212.5,635V674M213.5,635V662M214.5,608V674M215.5,621V674M216.5,608V674M217.5,595V674M218.5,595V674M219.5,635V674M220.5,621V662M221.5,621V674M222.5,621V674M223.5,608V662M224.5,608V674M225.5,595V662M226.5,608V674M227.5,581V674M228.5,621V662M229.5,621V674M230.5,608V674M231.5,515V674M232.5,595V674M233.5,621V674M234.5,608V674M235.5,648V662M236.5,608V662M237.5,635V662M238.5,608V674M239.5,595V674M240.5,595V662M241.5,635V674M242.5,648V674M243.5,595V662M244.5,608V674M245.5,621V662M246.5,621V662M247.5,621V674M248.5,581V674M249.5,621V674M250.5,635V674M251.5,608V674M252.5,621V674M253.5,635V674M254.5,635V662M255.5,635V674M256.5,595V674M257.5,581V674M258.5,608V674M259.5,635V674M260.5,635V674M261.5,608V674M262.5,621V674M263.5,541V674M264.5,595V674M265.5,635V674M266.5,621V674M267.5,595V674M268.5,608V674M269.5,621V674M270.5,541V674M271.5,635V674M272.5,555V674M273.5,608V674M274.5,595V674M275.5,528V674M276.5,555V674M277.5,635V674M278.5,568V662M279.5,608V662M280.5,581V674M281.5,581V674M282.5,621V662M283.5,581V662M284.5,581V662M285.5,581V662M286.5,621V662M287.5,555V662M288.5,608V674M289.5,595V662M290.5,595V674M291.5,635V662M292.5,608V674M293.5,608V662M294.5,595V674M295.5,581V674M296.5,621V674M297.5,581V674M298.5,581V674M299.5,621V674M300.5,595V674M301.5,621V662M302.5,621V674M303.5,635V674M304.5,608V674M305.5,635V674M306.5,621V674M307.5,595V674M308.5,621V674M309.5,608V674M310.5,608V662M311.5,581V662M312.5,608V674M313.5,608V674M314.5,635V662M315.5,648V674M316.5,648V674M317.5,635V674M318.5,541V662M319.5,621V674M320.5,635V674M321.5,608V674M322.5,608V674M323.5,621V674M324.5,621V674M325.5,595V674M326.5,608V674M327.5,621V674M328.5,595V674M329.5,581V674M330.5,608V674M331.5,608V674M332.5,621V674M333.5,635V674M334.5,635V674M335.5,635V662M336.5,648V674M337.5,621V662M338.5,621V662M339.5,635V674M340.5,635V674M341.5,635V674M342.5,621V674M343.5,621V674M344.5,621V674M345.5,621V674M346.5,621V674M347.5,635V662M348.5,635V674M349.5,635V662M350.5,635V674M351.5,648V674M352.5,635V674M353.5,648V674M354.5,608V674M355.5,608V674M356.5,621V674M357.5,635V674M358.5,648V674M359.5,648V674M360.5,621V674M361.5,621V674M362.5,648V674M363.5,648V674M364.5,635V674M365.5,648V674M366.5,648V674M367.5,648V674M368.5,635V674M369.5,635V674M370.5,648V674M371.5,661V674M372.5,661V674M373.5,648V674M374.5,635V674M375.5,635V674M376.5,648V674M377.5,635V674M378.5,648V674M379.5,635V674M380.5,621V674M381.5,635V674M382.5,621V674M383.5,635V674M384.5,635V674M385.5,648V674M386.5,648V674M387.5,635V674M388.5,635V674M389.5,648V674M390.5,648V674M391.5,661V674M392.5,648V674M393.5,648V674M394.5,648V674M395.5,635V674M396.5,635V674M397.5,621V674M398.5,648V674M399.5,648V674M400.5,648V674M401.5,648V674M402.5,621V674M403.5,608V674M404.5,621V674M405.5,621V674M406.5,621V674M407.5,661V674M408.5,661V674M409.5,661V674M410.5,648V674M411.5,648V674M412.5,648V674M413.5,635V674M414.5,648V674M415.5,648V674M416.5,661V674M417.5,661V674M418.5,648V674M419.5,648V674M420.5,661V674M421.5,648V674M422.5,648V674M423.5,661V674M424.5,648V674M425.5,661V674M426.5,661V674M427.5,661V674M428.5,648V674M429.5,635V674M430.5,661V674M431.5,661V674M432.5,661V674M433.5,648V674M434.5,661V674M435.5,648V674M436.5,661V674M437.5,648V674M438.5,648V674M439.5,648V674M440.5,648V674M441.5,648V674M442.5,648V674M443.5,621V674M444.5,608V674M445.5,648V674M446.5,648V674M447.5,621V674M448.5,661V674M449.5,648V674M450.5,648V674M451.5,648V674M452.5,648V674M453.5,648V674M454.5,648V674M455.5,648V662M456.5,648V674M457.5,648V674M458.5,635V674M459.5,648V674M460.5,648V674M461.5,661V674M462.5,648V674M463.5,661V674M464.5,661V674M465.5,661V674M466.5,648V674M467.5,648V674M468.5,648V674M469.5,648V674M470.5,648V662M471.5,648V662M472.5,661V674M473.5,648V674M474.5,635V674M475.5,648V674M476.5,648V674M477.5,648V674M478.5,648V674M479.5,648V674M480.5,648V674M481.5,648V674M482.5,661V674M483.5,648V674M484.5,608V674M485.5,595V674M486.5,635V674M487.5,621V674M488.5,635V674M489.5,648V674M490.5,648V674M491.5,661V674M492.5,661V674M493.5,661V674M494.5,648V674M495.5,661V674M496.5,648V674M497.5,648V674M498.5,648V674M499.5,635V674M500.5,621V674M501.5,635V674M502.5,661V674M503.5,648V674M504.5,648V674M505.5,661V674M506.5,635V674M507.5,635V674M508.5,621V674M509.5,648V674M510.5,661V674M511.5,648V674M512.5,608V674M513.5,635V674M514.5,661V674M515.5,661V674M516.5,661V674M517.5,661V674M518.5,648V674M519.5,661V674M520.5,661V674M521.5,661V674M522.5,661V674M523.5,661V674M524.5,661V674M525.5,648V674M526.5,661V674M527.5,648V674M528.5,635V674M529.5,648V674M530.5,648V674M531.5,648V674M532.5,635V674M533.5,621V674M534.5,648V674M535.5,635V674M536.5,621V674M537.5,595V674M538.5,621V674M539.5,608V674M540.5,648V674M541.5,635V674M542.5,635V674M543.5,635V674M544.5,635V674M545.5,621V674M546.5,648V674M547.5,648V674M548.5,648V674M549.5,661V674M550.5,621V674M551.5,635V674M552.5,648V674M553.5,635V674M554.5,648V674M555.5,661V674M556.5,661V674M557.5,648V674M558.5,661V674M559.5,648V674M560.5,661V674M561.5,648V674M562.5,648V674M563.5,648V674M564.5,648V674M565.5,648V674M566.5,648V674M567.5,648V674M568.5,635V674M569.5,648V674M570.5,661V674M571.5,648V674M572.5,648V674M573.5,648V674M574.5,635V674M575.5,648V674M576.5,648V674M577.5,648V674M578.5,661V674M579.5,648V674M580.5,635V674M581.5,661V674M582.5,648V674M583.5,648V674M584.5,661V674M585.5,661V674M586.5,635V674M587.5,648V674M588.5,621V674M589.5,648V674M590.5,635V674M591.5,635V674M592.5,635V674M593.5,635V674M594.5,635V674M595.5,661V674M596.5,648V674M597.5,621V674M598.5,635V674M599.5,648V674M600.5,661V674M601.5,635V674M602.5,621V662M603.5,621V674M604.5,635V662M605.5,595V674M606.5,608V674M607.5,648V674M608.5,635V674M609.5,635V674M610.5,608V674M611.5,635V674M612.5,621V674M613.5,595V674M614.5,608V674M615.5,581V674M616.5,581V674M617.5,635V674M618.5,595V674M619.5,581V674M620.5,595V674M621.5,635V662M622.5,648V662M623.5,621V662M624.5,621V674M625.5,621V662M626.5,635V674M627.5,635V674M628.5,635V674M629.5,635V674M630.5,621V674M631.5,621V674M632.5,635V674M633.5,635V674M634.5,608V662M635.5,608V674M636.5,635V674M637.5,621V674M638.5,648V662M639.5,661V674M640.5,621V662M641.5,608V674M642.5,608V674M643.5,608V674M644.5,608V662M645.5,635V674M646.5,621V662M647.5,541V662M648.5,648V674M649.5,621V674M650.5,635V674M651.5,661V674M652.5,661V674M653.5,648V662M654.5,661V674M655.5,635V674M656.5,635V674M657.5,608V674M658.5,608V674M659.5,581V674M660.5,595V662M661.5,621V674M662.5,635V674M663.5,635V674M664.5,635V674M665.5,635V674M666.5,635V674M667.5,648V674M668.5,661V674M669.5,661V674M670.5,635V674M671.5,648V674M672.5,635V674M673.5,648V662M674.5,661V674M675.5,648V674M676.5,621V674M677.5,608V674M678.5,608V674M679.5,648V674M680.5,648V674M681.5,635V674M682.5,635V674M683.5,648V674M684.5,648V674M685.5,635V674M686.5,621V674M687.5,635V674M688.5,595V674M689.5,608V662M690.5,621V662M691.5,608V674M692.5,608V662M693.5,608V662M694.5,581V662M695.5,608V674M696.5,648V674M697.5,661V674M698.5,635V674M699.5,661V674M700.5,635V662M701.5,648V662M702.5,635V674M703.5,608V674M704.5,648V662M705.5,581V662M706.5,581V674M707.5,608V674M708.5,635V674M709.5,635V674M710.5,635V674M711.5,621V674M712.5,608V674M713.5,621V662M714.5,635V662M715.5,648V674M716.5,621V674M717.5,661V674M718.5,648V674M719.5,635V674M720.5,608V674M721.5,661V674M722.5,621V674M723.5,661V674M724.5,621V674M725.5,595V674M726.5,595V662M727.5,621V674M728.5,648V674M729.5,621V674M730.5,635V674M731.5,621V674M732.5,635V674M733.5,635V674M734.5,595V674M735.5,635V674M736.5,621V674M737.5,648V674M738.5,621V674M739.5,608V674M740.5,621V674M741.5,608V674M742.5,595V662M743.5,621V662M744.5,621V662M745.5,595V674M746.5,621V662M747.5,595V662M748.5,581V674M749.5,621V674M750.5,581V674M751.5,621V662M752.5,568V674M753.5,635V674M754.5,635V674M755.5,635V662M756.5,635V662M757.5,555V662M758.5,608V662M759.5,635V662M760.5,648V662M761.5,621V674M762.5,635V674M763.5,648V674M764.5,661V674M765.5,568V674M766.5,635V674M767.5,648V674M768.5,648V674M769.5,648V674M770.5,648V674M771.5,635V674M772.5,555V674M773.5,608V674M774.5,621V674M775.5,648V674M776.5,635V674M777.5,635V674M778.5,608V674M779.5,635V662M780.5,635V662M781.5,635V662M782.5,635V662M783.5,621V674M784.5,608V674M785.5,595V674M786.5,581V674M787.5,595V674M788.5,608V662M789.5,581V662M790.5,635V674M791.5,635V662M792.5,621V674M793.5,621V662M794.5,635V662M795.5,635V662M796.5,635V674M797.5,621V674M798.5,635V674M799.5,621V674M800.5,621V662M801.5,635V674M802.5,635V674M803.5,621V662M804.5,608V662M805.5,595V674M806.5,608V674M807.5,581V674M808.5,581V674M809.5,635V674M810.5,621V674M811.5,608V662M812.5,608V674M813.5,595V674M814.5,595V674M815.5,608V674M816.5,595V674M817.5,621V674M818.5,635V674M819.5,635V674M820.5,621V674M821.5,635V662M822.5,581V674M823.5,581V674M824.5,595V674M825.5,635V674" stroke="#c000ff" stroke-width="1" fill="none" shape-rendering="crispEdges"/>
<path d="M98.5,8.5H875.5V674.5H98.5ZM90,674.5H98M875,674.5H884M90,541.5H98M875,541.5H884M90,408.5H98M875,408.5H884M90,274.5H98M875,274.5H884M90,141.5H98M875,141.5H884M90,8.5H98M875,8.5H884M875,674.5H884M875,507.5H884M875,341.5H884M875,174.5H884M875,8.5H884M98.5,674V683M98.5,0V8M184.5,674V683M184.5,0V8M271.5,674V683M271.5,0V8M357.5,674V683M357.5,0V8M443.5,674V683M443.5,0V8M530.5,674V683M530.5,0V8M616.5,674V683M616.5,0V8M702.5,674V683M702.5,0V8M789.5,674V683M789.5,0V8M875.5,674V683M875.5,0V8" fill="none" stroke="#000" stroke-width="1" shape-rendering="crispEdges"/>
<g font-family="DejaVu Sans, Liberation Sans, sans-serif" font-size="16" fill="#000" stroke="#fff" stroke-width="0.25">
<text x="75.5" y="678.8" text-anchor="end">0</text><text x="75.5" y="545.6" text-anchor="end">20</text><text x="75.5" y="412.4" text-anchor="end">40</text><text x="75.5" y="279.2" text-anchor="end">60</text><text x="75.5" y="146.0" text-anchor="end">80</text><text x="75.5" y="12.8" text-anchor="end">100</text><text x="98.5" y="706" text-anchor="middle">0</text><text x="184.8" y="706" text-anchor="middle">2</text><text x="271.2" y="706" text-anchor="middle">4</text><text x="357.5" y="706" text-anchor="middle">6</text><text x="443.8" y="706" text-anchor="middle">8</text><text x="530.2" y="706" text-anchor="middle">10</text><text x="616.5" y="706" text-anchor="middle">12</text><text x="702.8" y="706" text-anchor="middle">14</text><text x="789.2" y="706" text-anchor="middle">16</text><text x="875.5" y="706" text-anchor="middle">18</text><text x="898.7" y="678.8">97000</text><text x="898.7" y="512.3">97500</text><text x="898.7" y="345.8">98000</text><text x="898.7" y="179.3">98500</text><text x="898.7" y="12.8">99000</text><text x="483.5" y="734" text-anchor="middle">Time [s]</text><text transform="translate(17.8,342.4) rotate(-90)" text-anchor="middle" textLength="75.6" lengthAdjust="spacing">T [deg C]</text><text transform="translate(983,341.4) rotate(-90)" text-anchor="middle" textLength="47.8" lengthAdjust="spacing">p [Pa]</text>
<text x="266.5" y="766.8" text-anchor="end">Temperature</text><path d="M282,762.5H335" stroke="#ff0000" stroke-width="1" shape-rendering="crispEdges"/><text x="270" y="785.8" text-anchor="end" textLength="75.0" lengthAdjust="spacing">Humidity</text><path d="M282,781.5H335" stroke="#00c000" stroke-width="1" shape-rendering="crispEdges"/><text x="551" y="766.8" text-anchor="end">Barometric pressure</text><path d="M565,762.5H618" stroke="#0080ff" stroke-width="1" shape-rendering="crispEdges"/><text x="552.5" y="785.8" text-anchor="end">Wind</text><path d="M565,781.5H618" stroke="#c000ff" stroke-width="1" shape-rendering="crispEdges"/><text x="835.5" y="766.8" text-anchor="end" textLength="102.6" lengthAdjust="spacing">Precipitation</text><path d="M848,762.5H901" stroke="#00eeee" stroke-width="1" shape-rendering="crispEdges"/>
</g>
</svg>
</body></html>
